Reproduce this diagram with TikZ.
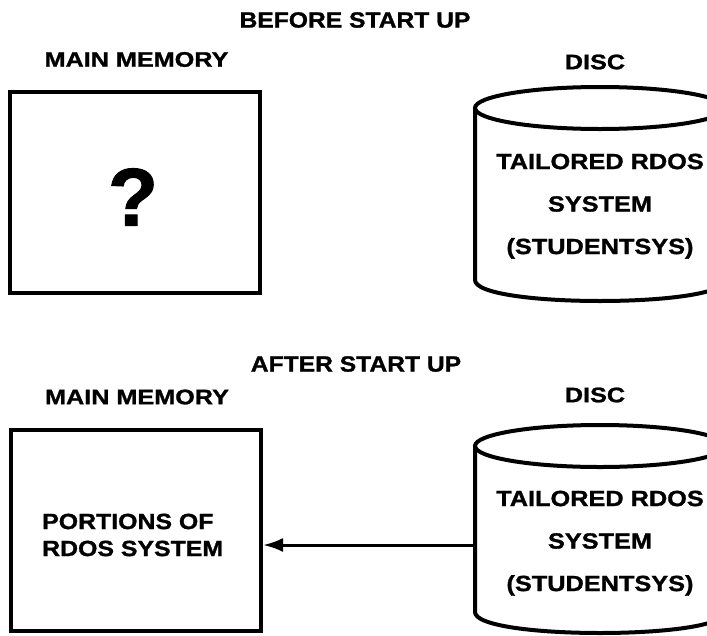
\documentclass[tikz,border=0pt]{standalone}
\usepackage{fontspec}
\setmainfont{Liberation Sans}
\newfontfamily\titlefont{Liberation Sans}[FakeStretch=1.12, FakeBold=1.2]
\newfontfamily\labelfont{Liberation Sans}[FakeStretch=1.2, FakeBold=1.2]
\newfontfamily\discfont{Liberation Sans}[FakeStretch=1.15, FakeBold=1.2]
\newfontfamily\memfont{Liberation Sans}[FakeStretch=1.13, FakeBold=1.2]
\newfontfamily\qfont{Liberation Sans}[FakeBold=1.2]
\usetikzlibrary{arrows.meta}
\tikzset{
  title/.style={font=\titlefont\bfseries\fontsize{22}{26}\selectfont, inner sep=0pt},
  lbl/.style={font=\labelfont\bfseries\fontsize{21}{25}\selectfont, inner sep=0pt},
  disctext/.style={font=\discfont\bfseries\fontsize{22}{42.5}\selectfont, align=center, inner sep=0pt, anchor=north},
  memtext/.style={font=\memfont\bfseries\fontsize{22}{27}\selectfont, align=left, inner sep=0pt, anchor=north west},
  membox/.style={draw, line width=4pt, minimum width=250pt, minimum height=201pt, inner sep=0pt},
  cyl/.style={line width=4pt},
  conn/.style={line width=3pt, -{Latex[length=20pt,width=14pt]}}
}
\begin{document}
\begin{tikzpicture}[x=1pt,y=-1pt]
\useasboundingbox (0,0) rectangle (707,635);
\clip (0,0) rectangle (707,635);
% ---------- before start up
\node[title] (t1) at (355,20) {BEFORE START UP};
\node[lbl] (mm1) at (136.5,59.5) {MAIN MEMORY};
\node[lbl] (dl1) at (595,62) {DISC};
\node[membox] (mem1) at (135,192) {};
\node[font=\qfont\bfseries\fontsize{82}{82}\selectfont, inner sep=0pt] (q) at (133,197) {?};
\draw[cyl] (600,108) ellipse [x radius=125, y radius=21];
\draw[cyl] (475,108) -- (475,280) .. controls (475,308) and (725,308) .. (725,280) -- (725,108);
\node[disctext] (disc1) at (600,153.5) {TAILORED RDOS\\SYSTEM\\(STUDENTSYS)};
% ---------- after start up
\node[title] (t2) at (356,364) {AFTER START UP};
\node[lbl] (mm2) at (137,397) {MAIN MEMORY};
\node[lbl] (dl2) at (595,395) {DISC};
\node[membox] (mem2) at (136,530) {};
\node[memtext] (pt) at (42,513.5) {PORTIONS OF\\RDOS SYSTEM};
\draw[cyl] (600,446) ellipse [x radius=125, y radius=21];
\draw[cyl] (475,446) -- (475,612) .. controls (475,640) and (725,640) .. (725,612) -- (725,446);
\node[disctext] (disc2) at (600,490.5) {TAILORED RDOS\\SYSTEM\\(STUDENTSYS)};
\coordinate (src) at (475,545);
\draw[conn] (src) -- (mem2.east |- src);
\end{tikzpicture}
\end{document}
